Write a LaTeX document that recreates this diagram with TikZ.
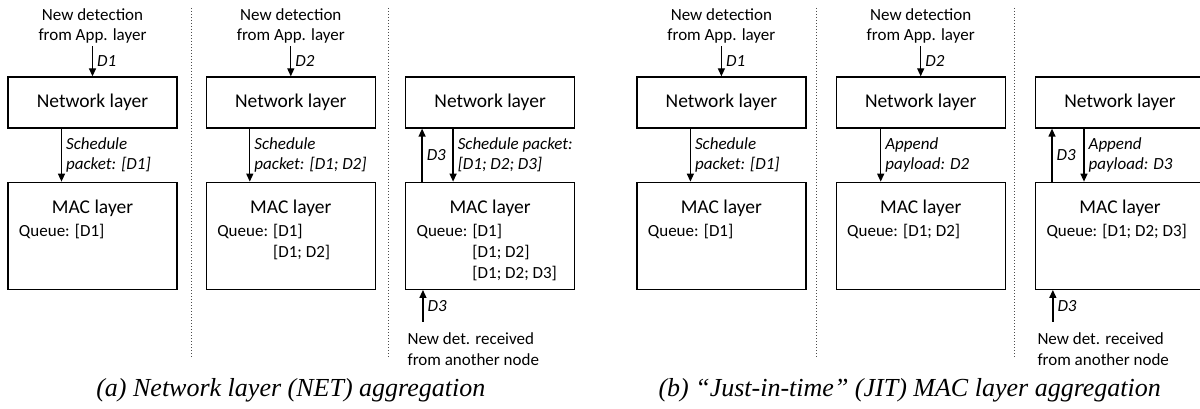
\documentclass[tikz,border=0pt]{standalone}
\usepackage{fontspec}
\setmainfont{Carlito}
\newfontfamily\timescap{Liberation Serif}
\usetikzlibrary{positioning, arrows.meta}

\begin{document}
\begin{tikzpicture}[x=1pt, y=-1pt, line width=1.3pt, >={Triangle[length=8pt, width=7pt]},
    layer/.style={draw, minimum width=169pt, minimum height=51pt, inner sep=0pt, font=\fontsize{19.5}{23}\selectfont},
    mac/.style={draw, minimum width=169pt, minimum height=107pt, inner sep=0pt},
    laytitle/.style={inner sep=0pt, font=\fontsize{19.5}{23}\selectfont},
    txt/.style={inner sep=2pt, font=\fontsize{17}{20}\selectfont},
    queue/.style={inner sep=0pt, align=left, font=\fontsize{17}{21}\selectfont},
    lbl/.style={right, inner sep=4pt, align=left, font=\fontsize{17}{20}\selectfont\itshape},
    divider/.style={dotted, line width=1pt, black!70},
    subcap/.style={font=\fontsize{26}{30}\timescap\itshape}]
    \useasboundingbox (0,0) rectangle (1200,409);

    \node[layer] (n1) at (92.5,102.5) {Network layer};
    \node[layer] (n2) [right=28pt of n1] {Network layer};
    \node[layer] (n3) [right=29pt of n2] {Network layer};
    \node[layer] (n4) [right=61pt of n3] {Network layer};
    \node[layer] (n5) [right=29pt of n4] {Network layer};
    \node[layer] (n6) [right=29pt of n5] {Network layer};

    \node[mac] (m1) [below=53pt of n1] {};
    \node[mac] (m2) [below=53pt of n2] {};
    \node[mac] (m3) [below=53pt of n3] {};
    \node[mac] (m4) [below=53pt of n4] {};
    \node[mac] (m5) [below=53pt of n5] {};
    \node[mac] (m6) [below=53pt of n6] {};

    \node[laytitle] (h1) [below=32pt of m1.north, anchor=base] {MAC layer};
    \node[laytitle] (h2) [below=32pt of m2.north, anchor=base] {MAC layer};
    \node[laytitle] (h3) [below=32pt of m3.north, anchor=base] {MAC layer};
    \node[laytitle] (h4) [below=32pt of m4.north, anchor=base] {MAC layer};
    \node[laytitle] (h5) [below=32pt of m5.north, anchor=base] {MAC layer};
    \node[laytitle] (h6) [below=32pt of m6.north, anchor=base] {MAC layer};

    \node[queue] (q1) [below right=42pt and 11pt of m1.north west, anchor=north west] {Queue: [D1]};
    \node[queue] (q2) [below right=42pt and 11pt of m2.north west, anchor=north west] {Queue: [D1]\\\hphantom{Queue: }[D1; D2]};
    \node[queue] (q3) [below right=42pt and 11pt of m3.north west, anchor=north west] {Queue: [D1]\\\hphantom{Queue: }[D1; D2]\\\hphantom{Queue: }[D1; D2; D3]};
    \node[queue] (q4) [below right=42pt and 11pt of m4.north west, anchor=north west] {Queue: [D1]};
    \node[queue] (q5) [below right=42pt and 11pt of m5.north west, anchor=north west] {Queue: [D1; D2]};
    \node[queue] (q6) [below right=42pt and 11pt of m6.north west, anchor=north west] {Queue: [D1; D2; D3]};

    \node[txt, align=center] (t1) [above=30pt of n1] {New detection\\from App. layer};
    \node[txt, align=center] (t2) [above=30pt of n2] {New detection\\from App. layer};
    \node[txt, align=center] (t4) [above=30pt of n4] {New detection\\from App. layer};
    \node[txt, align=center] (t5) [above=30pt of n5] {New detection\\from App. layer};
    \node[txt, align=left] (r3) [below=40pt of m3.south west, anchor=north west, font=\fontsize{17}{21}\selectfont] {New det. received\\from another node};
    \node[txt, align=left] (r6) [below=40pt of m6.south west, anchor=north west, font=\fontsize{17}{21}\selectfont] {New det. received\\from another node};

    \path[->]
    (t1) edge node[lbl] {D1} (n1)
        ([xshift=-31pt]n1.south) edge node[lbl] {Schedule\\packet: [D1]} ([xshift=-31pt]m1.north)
    (t2) edge node[lbl] {D2} (n2)
        ([xshift=-41pt]n2.south) edge node[lbl] {Schedule\\packet: [D1; D2]} ([xshift=-41pt]m2.north)
    ([xshift=-37pt]n3.south) edge node[lbl] {Schedule packet:\\{}[D1; D2; D3]} ([xshift=-37pt]m3.north)
        ([xshift=-68pt]m3.north) edge node[lbl] {D3} ([xshift=-68pt]n3.south)
    ([xshift=18pt, yshift=-32pt]m3.south west) edge node[lbl] {D3} ([xshift=18pt]m3.south west)
    (t4) edge node[lbl] {D1} (n4)
        ([xshift=-31pt]n4.south) edge node[lbl] {Schedule\\packet: [D1]} ([xshift=-31pt]m4.north)
    (t5) edge node[lbl] {D2} (n5)
        ([xshift=-40pt]n5.south) edge node[lbl] {Append\\payload: D2} ([xshift=-40pt]m5.north)
    ([xshift=-36pt]n6.south) edge node[lbl] {Append\\payload: D3} ([xshift=-36pt]m6.north)
        ([xshift=-68pt]m6.north) edge node[lbl] {D3} ([xshift=-68pt]n6.south)
    ([xshift=18pt, yshift=-32pt]m6.south west) edge node[lbl] {D3} ([xshift=18pt]m6.south west);

    \draw[divider] (191,8) -- (191,358);
    \draw[divider] (388.5,8) -- (388.5,358);
    \draw[divider] (816.5,8) -- (816.5,358);
    \draw[divider] (1014.5,8) -- (1014.5,358);

    \node[subcap] (ca) [below=107pt of m2.south, anchor=base] {(a) Network layer (NET) aggregation};
    \node[subcap] (cb) [below=107pt of m5.south, anchor=base, xshift=-11pt] {(b) “Just-in-time” (JIT) MAC layer aggregation};
\end{tikzpicture}
\end{document}
